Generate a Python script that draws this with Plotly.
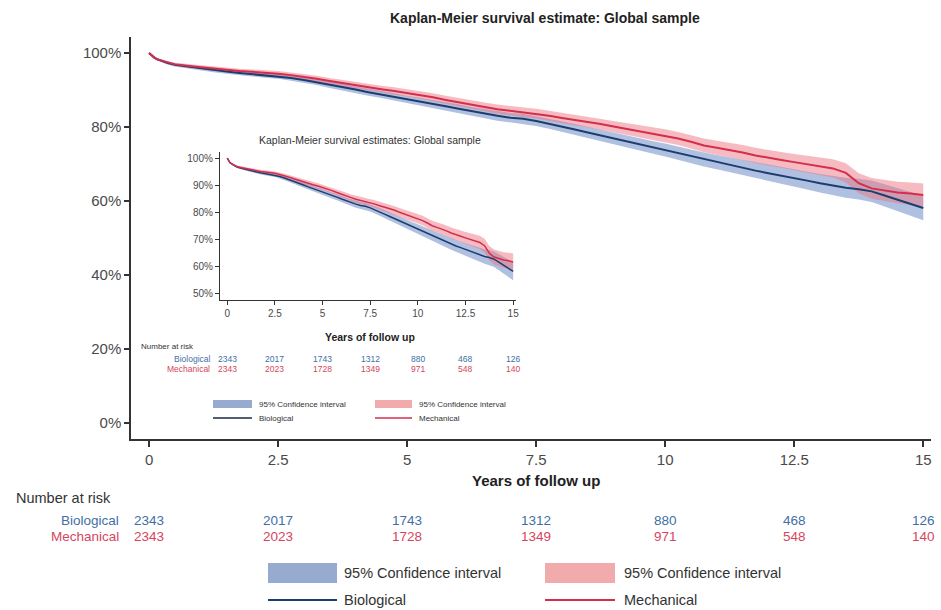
import plotly.graph_objects as go

# ---------------- data ----------------
times = [0, 0.05, 0.1, 0.15, 0.25, 0.35, 0.5,
         0.75, 1.0, 1.25, 1.5, 1.75, 2.0, 2.25, 2.5,
         2.75, 3.0, 3.25, 3.5, 3.75, 4.0, 4.25, 4.5, 4.75, 5.0,
         5.25, 5.5, 5.75, 6.0, 6.25, 6.5, 6.75, 7.0, 7.25, 7.5,
         7.75, 8.0, 8.25, 8.5, 8.75, 9.0, 9.25, 9.5, 9.75, 10.0,
         10.25, 10.5, 10.75, 11.0, 11.25, 11.5, 11.75, 12.0, 12.25, 12.5,
         12.75, 13.0, 13.25, 13.5, 13.75, 14.0, 14.25, 14.5, 14.75, 15.0]

bio_surv = [100, 99.3, 98.7, 98.3, 97.8, 97.3, 96.8,
            96.3, 95.8, 95.4, 95.0, 94.6, 94.3, 94.0, 93.7,
            93.2, 92.7, 92.1, 91.4, 90.7, 90.1, 89.4, 88.8, 88.1, 87.4,
            86.8, 86.2, 85.6, 84.9, 84.2, 83.6, 83.0, 82.5, 82.2, 81.6,
            80.9, 80.1, 79.3, 78.5, 77.7, 76.8, 76.0, 75.2, 74.5, 73.8,
            72.9, 72.0, 71.2, 70.5, 69.8, 69.0, 68.2, 67.5, 66.9, 66.2,
            65.5, 64.8, 64.1, 63.6, 63.2, 62.6, 61.5, 60.4, 59.2, 58.1]

mech_surv = [100, 99.3, 98.8, 98.3, 97.9, 97.4, 96.9,
             96.5, 96.1, 95.7, 95.4, 95.1, 94.9, 94.7, 94.4,
             94.0, 93.6, 93.0, 92.4, 91.8, 91.3, 90.8, 90.2, 89.7, 89.2,
             88.6, 88.0, 87.3, 86.6, 86.0, 85.4, 84.8, 84.4, 84.0, 83.6,
             83.0, 82.4, 81.9, 81.4, 80.8, 80.1, 79.5, 78.9, 78.3, 77.7,
             76.9, 76.0, 75.0, 74.4, 73.8, 73.1, 72.3, 71.6, 71.1, 70.5,
             69.9, 69.3, 68.8, 67.6, 64.8, 63.4, 62.8, 62.3, 62.0, 61.6]

# 95% CI half-widths (percentage points)
bio_ci = [0, 0.15, 0.25, 0.3, 0.35, 0.4, 0.45,
          0.5, 0.55, 0.6, 0.6, 0.65, 0.65, 0.7, 0.7,
          0.75, 0.8, 0.8, 0.85, 0.9, 0.9, 0.95, 1.0, 1.0, 1.05,
          1.1, 1.1, 1.15, 1.2, 1.2, 1.25, 1.3, 1.3, 1.35, 1.35,
          1.4, 1.45, 1.5, 1.5, 1.55, 1.6, 1.65, 1.7, 1.7, 1.75,
          1.8, 1.85, 1.9, 1.95, 2.0, 2.05, 2.1, 2.15, 2.2, 2.3,
          2.4, 2.5, 2.6, 2.7, 2.8, 2.9, 3.0, 3.1, 3.2, 3.3]

mech_ci = [0, 0.15, 0.25, 0.3, 0.35, 0.4, 0.45,
           0.5, 0.5, 0.55, 0.6, 0.6, 0.65, 0.65, 0.7,
           0.7, 0.75, 0.8, 0.8, 0.85, 0.9, 0.9, 0.95, 1.0, 1.0,
           1.05, 1.1, 1.1, 1.15, 1.2, 1.2, 1.25, 1.3, 1.3, 1.35,
           1.4, 1.45, 1.5, 1.5, 1.55, 1.6, 1.6, 1.65, 1.7, 1.7,
           1.75, 1.8, 1.85, 1.9, 1.95, 2.0, 2.05, 2.1, 2.15, 2.2,
           2.3, 2.35, 2.45, 2.6, 2.7, 2.8, 2.85, 2.9, 3.0, 3.1]

risk_times = [0, 2.5, 5, 7.5, 10, 12.5, 15]
risk_bio = [2343, 2017, 1743, 1312, 880, 468, 126]
risk_mech = [2343, 2023, 1728, 1349, 971, 548, 140]

main_yticks = [0, 20, 40, 60, 80, 100]
inset_yticks = [50, 60, 70, 80, 90, 100]
xticks = [0, 2.5, 5, 7.5, 10, 12.5, 15]
xtick_labels = ["0", "2.5", "5", "7.5", "10", "12.5", "15"]

# ---------------- styles ----------------
FONT = "Liberation Sans"
BLUE_LINE = "#1c3d6e"
RED_LINE = "#d42d4e"
BLUE_FILL = "rgba(95,130,195,0.50)"
RED_FILL = "rgba(238,120,130,0.50)"
BLUE_LEG = "#97aad0"
RED_LEG = "#f2abad"
BLUE_TXT = "#3f6fa6"
RED_TXT = "#d6455e"
AX = "#333333"
TICKTXT = "#4a4a4a"

# plot area in pixels: x 131..931, y 37..439
def py(pix):
    return (439 - pix) / 402.0

def px(pix):
    return (pix - 131) / 800.0

fig = go.Figure()

def add_km(xa, ya, lw):
    for surv, ci, fill in [(bio_surv, bio_ci, BLUE_FILL), (mech_surv, mech_ci, RED_FILL)]:
        lo = [s - c for s, c in zip(surv, ci)]
        hi = [s + c for s, c in zip(surv, ci)]
        fig.add_trace(go.Scatter(x=times, y=lo, mode="lines", line=dict(width=0),
                                 showlegend=False, hoverinfo="skip", xaxis=xa, yaxis=ya))
        fig.add_trace(go.Scatter(x=times, y=hi, mode="lines", line=dict(width=0),
                                 fill="tonexty", fillcolor=fill,
                                 showlegend=False, hoverinfo="skip", xaxis=xa, yaxis=ya))
    fig.add_trace(go.Scatter(x=times, y=bio_surv, mode="lines", line=dict(color=BLUE_LINE, width=lw),
                             showlegend=False, name="Biological", xaxis=xa, yaxis=ya))
    fig.add_trace(go.Scatter(x=times, y=mech_surv, mode="lines", line=dict(color=RED_LINE, width=lw),
                             showlegend=False, name="Mechanical", xaxis=xa, yaxis=ya))

add_km("x", "y", 2)
add_km("x2", "y2", 1.5)

annotations = []
shapes = []

# ---------- main texts ----------
annotations.append(dict(text="<b>Kaplan-Meier survival estimate: Global sample</b>", xref="paper", yref="paper",
                        x=px(545), y=py(18), showarrow=False, font=dict(size=14, color="#222222"),
                        xanchor="center", yanchor="middle"))
annotations.append(dict(text="<b>Years of follow up</b>", xref="x", yref="paper", x=7.5, y=py(480),
                        showarrow=False, font=dict(size=15, color="#222222"), xanchor="center", yanchor="middle"))
annotations.append(dict(text="Number at risk", xref="paper", yref="paper", x=px(14), y=py(498),
                        showarrow=False, font=dict(size=14.5, color="#333333"), xanchor="left", yanchor="middle"))
annotations.append(dict(text="Biological", xref="paper", yref="paper", x=px(121), y=py(520),
                        showarrow=False, font=dict(size=13.5, color=BLUE_TXT), xanchor="right", yanchor="middle"))
annotations.append(dict(text="Mechanical", xref="paper", yref="paper", x=px(121), y=py(536),
                        showarrow=False, font=dict(size=13.5, color=RED_TXT), xanchor="right", yanchor="middle"))
for t, b, m in zip(risk_times, risk_bio, risk_mech):
    annotations.append(dict(text=str(b), xref="x", yref="paper", x=t, y=py(520), showarrow=False,
                            font=dict(size=13.5, color=BLUE_TXT), xanchor="center", yanchor="middle"))
    annotations.append(dict(text=str(m), xref="x", yref="paper", x=t, y=py(536), showarrow=False,
                            font=dict(size=13.5, color=RED_TXT), xanchor="center", yanchor="middle"))

# main legend
shapes.append(dict(type="rect", xref="paper", yref="paper", x0=px(268), x1=px(337), y0=py(583), y1=py(563),
                   fillcolor=BLUE_LEG, line=dict(width=0)))
shapes.append(dict(type="rect", xref="paper", yref="paper", x0=px(545), x1=px(615), y0=py(583), y1=py(563),
                   fillcolor=RED_LEG, line=dict(width=0)))
shapes.append(dict(type="line", xref="paper", yref="paper", x0=px(268), x1=px(337), y0=py(600), y1=py(600),
                   line=dict(color=BLUE_LINE, width=2)))
shapes.append(dict(type="line", xref="paper", yref="paper", x0=px(545), x1=px(615), y0=py(600), y1=py(600),
                   line=dict(color=RED_LINE, width=2)))
for xx, yy, txt in [(342, 573, "95% Confidence interval"), (622, 573, "95% Confidence interval"),
                    (342, 600, "Biological"), (622, 600, "Mechanical")]:
    annotations.append(dict(text=txt, xref="paper", yref="paper", x=px(xx), y=py(yy), showarrow=False,
                            font=dict(size=14.5, color="#333333"), xanchor="left", yanchor="middle"))

# ---------- inset texts ----------
annotations.append(dict(text="Kaplan-Meier survival estimates: Global sample", xref="x2", yref="paper",
                        x=7.5, y=py(140), showarrow=False, font=dict(size=10.5, color="#333333"),
                        xanchor="center", yanchor="middle"))
annotations.append(dict(text="<b>Years of follow up</b>", xref="x2", yref="paper", x=7.5, y=py(337),
                        showarrow=False, font=dict(size=10.5, color="#222222"), xanchor="center", yanchor="middle"))
annotations.append(dict(text="Number at risk", xref="paper", yref="paper", x=px(139), y=py(346),
                        showarrow=False, font=dict(size=8, color="#333333"), xanchor="left", yanchor="middle"))
annotations.append(dict(text="Biological", xref="paper", yref="paper", x=px(212), y=py(359),
                        showarrow=False, font=dict(size=8.5, color=BLUE_TXT), xanchor="right", yanchor="middle"))
annotations.append(dict(text="Mechanical", xref="paper", yref="paper", x=px(212), y=py(369),
                        showarrow=False, font=dict(size=8.5, color=RED_TXT), xanchor="right", yanchor="middle"))
for t, b, m in zip(risk_times, risk_bio, risk_mech):
    annotations.append(dict(text=str(b), xref="x2", yref="paper", x=t, y=py(359), showarrow=False,
                            font=dict(size=8.5, color=BLUE_TXT), xanchor="center", yanchor="middle"))
    annotations.append(dict(text=str(m), xref="x2", yref="paper", x=t, y=py(369), showarrow=False,
                            font=dict(size=8.5, color=RED_TXT), xanchor="center", yanchor="middle"))

shapes.append(dict(type="rect", xref="paper", yref="paper", x0=px(213), x1=px(252), y0=py(408), y1=py(400),
                   fillcolor=BLUE_LEG, line=dict(width=0)))
shapes.append(dict(type="rect", xref="paper", yref="paper", x0=px(375), x1=px(412), y0=py(408), y1=py(400),
                   fillcolor=RED_LEG, line=dict(width=0)))
shapes.append(dict(type="line", xref="paper", yref="paper", x0=px(213), x1=px(252), y0=py(418), y1=py(418),
                   line=dict(color="#1a2a40", width=1.5)))
shapes.append(dict(type="line", xref="paper", yref="paper", x0=px(375), x1=px(412), y0=py(418), y1=py(418),
                   line=dict(color=RED_LINE, width=1.5)))
for xx, yy, txt in [(257, 404, "95% Confidence interval"), (417, 404, "95% Confidence interval"),
                    (257, 418, "Biological"), (417, 418, "Mechanical")]:
    annotations.append(dict(text=txt, xref="paper", yref="paper", x=px(xx), y=py(yy), showarrow=False,
                            font=dict(size=8, color="#333333"), xanchor="left", yanchor="middle"))

axis_common = dict(showgrid=False, zeroline=False, showline=True, linecolor=AX, ticks="outside",
                   tickcolor=AX)

fig.update_layout(
    width=941, height=610,
    margin=dict(l=131, r=10, t=37, b=171, autoexpand=False),
    paper_bgcolor="white", plot_bgcolor="white",
    font=dict(family=FONT, color="#333333"),
    showlegend=False,
    xaxis=dict(range=[-0.35, 15.15], tickvals=xticks, ticktext=xtick_labels, linewidth=1.5,
               ticklen=6, tickwidth=1.5, tickfont=dict(size=15, color=TICKTXT), **axis_common),
    yaxis=dict(range=[-4.3, 104.3], tickvals=main_yticks, ticktext=[f"{v}%" for v in main_yticks],
               linewidth=1.5, ticklen=5, tickwidth=1.5, tickfont=dict(size=15, color=TICKTXT), **axis_common),
    xaxis2=dict(domain=[0.11125, 0.48125], anchor="y2", range=[-0.38, 15.15], tickvals=xticks,
                ticktext=xtick_labels, linewidth=1.2, ticklen=4, tickwidth=1.2,
                tickfont=dict(size=10, color=TICKTXT), **axis_common),
    yaxis2=dict(domain=[0.3458, 0.7139], anchor="x2", range=[47.5, 102.3], tickvals=inset_yticks,
                ticktext=[f"{v}%" for v in inset_yticks], linewidth=1.2, ticklen=4, tickwidth=1.2,
                tickfont=dict(size=10, color=TICKTXT), **axis_common),
    annotations=annotations,
    shapes=shapes,
)

fig.write_html("out.html", config={"displayModeBar": False},
               post_script="document.body.style.margin='0';document.body.style.overflow='hidden';")
